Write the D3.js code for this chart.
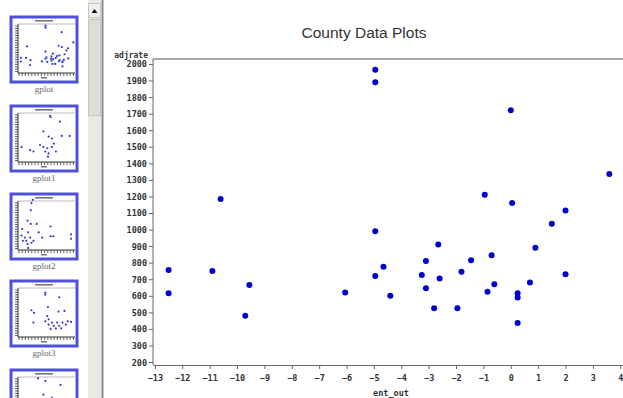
<!DOCTYPE html>
<html>
<head>
<meta charset="utf-8">
<script src="https://cdn.jsdelivr.net/npm/d3@7"></script>
<style>
  body { margin: 0; background: #fff; }
  svg { display: block; }
  .tick-lbl { font-family: "DejaVu Sans Mono", monospace; font-weight: bold; font-size: 8.5px; fill: #333; }
</style>
</head>
<body>
<svg id="chart" width="623" height="398"></svg>
<script>
// main plot values: ent_out vs adjrate
const entOut = [-12.5, -12.5, -10.9, -10.6, -9.7, -9.55, -6.05, -4.95, -4.95, -4.95, -4.95, -4.65, -4.4,
  -3.25, -3.1, -3.1, -2.8, -2.65, -2.6, -1.95, -1.8, -1.45, -0.95, -0.85, -0.7, -0.6,
  0.0, 0.05, 0.25, 0.25, 0.25, 0.7, 0.9, 1.5, 2.0, 2.0, 3.6];
const adjRate = [755, 615, 750, 1185, 480, 665, 620, 1965, 1890, 990, 720, 775, 600,
  725, 810, 645, 525, 910, 705, 525, 745, 815, 1210, 625, 845, 670,
  1720, 1160, 615, 590, 435, 680, 890, 1035, 1115, 730, 1335];

const xTicks = d3.range(-13, 5);
const yTicks = d3.range(200, 2001, 100);

const title = 'County Data Plots';
const xLabel = 'ent_out';
const yLabel = 'adjrate';

// thumbnail pane (points as percent of thumbnail box)
const thumbNames = ['gplot', 'gplot1', 'gplot2', 'gplot3', 'gplot4'];
const thumbPoints = [
  null, // gplot shows the main data
  [[59,15],[60,17],[74,24],[49,39],[89,46],[77,46],[57,47],[62,50],[16,63],[29,68],[34,70],[44,60],
   [49,63],[55,65],[62,63],[65,58],[52,70],[57,73],[56,78],[68,70]],
  [[31,14],[33,9],[30,25],[25,41],[30,46],[39,46],[17,54],[60,50],[26,59],[42,59],[16,64],[21,67],
   [29,67],[47,67],[18,72],[23,72],[31,75],[25,77],[26,83],[34,72],[60,65],[64,65],[91,62],[91,69]],
  [[52,18],[52,21],[73,25],[56,40],[31,45],[35,49],[72,47],[81,46],[55,54],[57,59],[34,64],[52,62],
   [62,64],[70,64],[78,64],[86,62],[91,63],[57,67],[65,69],[73,69],[83,67],[68,73],[76,73],[60,74]],
  [[41,13],[52,17],[75,23],[49,38],[62,43]]
];

const svg = d3.select('#chart');

// ---- left thumbnail pane ----
const thumbTop = [17, 106, 194, 281, 370];
const tw = 66, th = 65, tx0 = 11;

thumbNames.forEach((name, i) => {
  const g = svg.append('g').attr('transform', `translate(${tx0},${thumbTop[i]})`);
  g.append('rect').attr('width', tw).attr('height', th)
    .attr('fill', '#fff').attr('stroke', '#5050d8').attr('stroke-width', 3);
  // tiny title
  g.append('rect').attr('x', tw / 2 - 9).attr('y', 3).attr('width', 18).attr('height', 1.6).attr('fill', '#777');
  g.append('line').attr('x1', 7).attr('x2', tw - 2).attr('y1', 7).attr('y2', 7).attr('stroke', '#bbb');
  // mini axes
  g.append('line').attr('x1', 7).attr('x2', 7).attr('y1', 7).attr('y2', th - 9).attr('stroke', '#333').attr('stroke-width', 1);
  g.append('line').attr('x1', 7).attr('x2', tw - 2).attr('y1', th - 9).attr('y2', th - 9).attr('stroke', '#333').attr('stroke-width', 1);
  g.append('g').selectAll('line').data(d3.range(0, 20)).join('line')
    .attr('x1', 4).attr('x2', 7).attr('y1', d => 9 + d * 2.4).attr('y2', d => 9 + d * 2.4)
    .attr('stroke', '#333').attr('stroke-width', 0.8);
  g.append('g').selectAll('line').data(d3.range(0, 18)).join('line')
    .attr('x1', d => 8 + d * 3.2).attr('x2', d => 8 + d * 3.2).attr('y1', th - 9).attr('y2', th - 6)
    .attr('stroke', '#333').attr('stroke-width', 0.8);
  g.append('rect').attr('x', tw / 2 - 3).attr('y', th - 5).attr('width', 6).attr('height', 1.5).attr('fill', '#777');

  let pts;
  if (thumbPoints[i] === null) {
    const sx = d3.scaleLinear().domain([-13.07, 4.1]).range([8, tw - 2]);
    const sy = d3.scaleLinear().domain([182, 2030]).range([th - 9, 7]);
    pts = entOut.map((v, k) => [sx(v), sy(adjRate[k])]);
  } else {
    const px = d3.scaleLinear().domain([0, 100]).range([0, tw]);
    const py = d3.scaleLinear().domain([0, 100]).range([0, th]);
    pts = thumbPoints[i].map(p => [px(p[0]), py(p[1])]);
  }
  g.append('g').selectAll('circle').data(pts).join('circle')
    .attr('cx', d => d[0]).attr('cy', d => d[1]).attr('r', 1.1).attr('fill', '#3a3ad0');

  // the last thumbnail's caption lies below the visible pane
  if (thumbTop[i] + 75 < 398) {
    svg.append('text').attr('x', tx0 + tw / 2).attr('y', thumbTop[i] + 75)
      .attr('text-anchor', 'middle').attr('font-family', '"Liberation Serif", serif')
      .attr('font-size', 9).attr('fill', '#666').text(name);
  }
});

// scrollbar
svg.append('rect').attr('x', 88).attr('y', 0).attr('width', 13).attr('height', 398).attr('fill', '#ebe9e3');
svg.append('rect').attr('x', 88.5).attr('y', 3.5).attr('width', 12).attr('height', 14)
  .attr('fill', '#f2f0ec').attr('stroke', '#c8c6c0');
svg.append('path').attr('d', 'M91.5,13 L94.5,9 L97.5,13 Z').attr('fill', '#111');
svg.append('rect').attr('x', 88.5).attr('y', 19.5).attr('width', 12).attr('height', 96)
  .attr('fill', '#dedcd6').attr('stroke', '#c8c6c0');
svg.append('line').attr('x1', 102.5).attr('x2', 102.5).attr('y1', 0).attr('y2', 398)
  .attr('stroke', '#8a8a8a').attr('stroke-width', 2);

// ---- main plot ----
const x = d3.scaleLinear().domain([-13.07, 4.1]).range([153, 623]);
const y = d3.scaleLinear().domain([182, 2030]).range([365, 59]);

svg.append('text').attr('x', 364).attr('y', 38).attr('text-anchor', 'middle')
  .attr('font-family', '"Liberation Sans", Arial, sans-serif').attr('font-size', 15.5)
  .attr('fill', '#333').text(title);

// top frame line
svg.append('line').attr('x1', 153).attr('x2', 623).attr('y1', 59).attr('y2', 59)
  .attr('stroke', '#aaa').attr('stroke-width', 2);

const yAxis = d3.axisLeft(y).tickValues(yTicks).tickFormat(d3.format('d'))
  .tickSize(4).tickPadding(2).tickSizeOuter(0);
const yMinor = d3.axisLeft(y).tickValues(d3.range(200, 2021, 20)).tickSize(2).tickFormat('').tickSizeOuter(0);
const xAxis = d3.axisBottom(x).tickValues(xTicks).tickFormat(d3.format('d'))
  .tickSize(4).tickPadding(6).tickSizeOuter(0);
const xMinor = d3.axisBottom(x).tickValues(d3.range(-13, 4.05, 0.2)).tickSize(2).tickFormat('').tickSizeOuter(0);

const yG = svg.append('g').attr('transform', 'translate(153,0)');
yG.call(yMinor);
yG.call(yAxis);
yG.selectAll('.domain').attr('stroke', '#666').attr('d', 'M0,59V365');
yG.selectAll('line').attr('stroke', '#666');
yG.selectAll('text').attr('class', 'tick-lbl').attr('dy', '0.35em');

const xG = svg.append('g').attr('transform', 'translate(0,365)');
xG.call(xMinor);
xG.call(xAxis);
xG.selectAll('.domain').attr('stroke', '#666');
xG.selectAll('line').attr('stroke', '#666');
xG.selectAll('text').attr('class', 'tick-lbl');

svg.append('text').attr('class', 'tick-lbl').attr('x', 148).attr('y', 57.5)
  .attr('text-anchor', 'end').style('font-size', '8px').text(yLabel);
svg.append('text').attr('class', 'tick-lbl').attr('x', 391).attr('y', 396).attr('text-anchor', 'middle').text(xLabel);

// points
svg.append('g').selectAll('circle')
  .data(entOut.map((v, i) => [v, adjRate[i]]))
  .join('circle')
  .attr('cx', d => x(d[0]))
  .attr('cy', d => y(d[1]))
  .attr('r', 3)
  .attr('fill', '#0000cc');
</script>
</body>
</html>
